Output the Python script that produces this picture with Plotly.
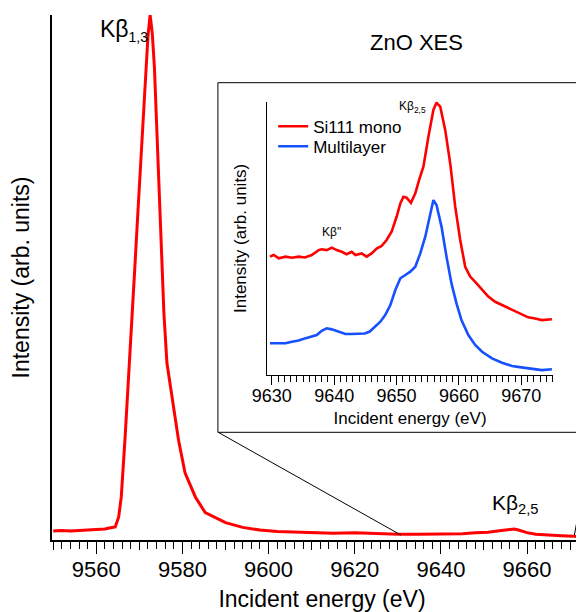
import plotly.graph_objects as go

# ---------------- data ----------------
main_energy = [9550.0, 9552, 9554, 9556, 9558, 9560, 9562, 9563, 9564.4, 9565.2, 9565.8,
               9566.7, 9567.5, 9568.3, 9568.9, 9569.7, 9570.5, 9571.4, 9572.0, 9572.5,
               9573.0, 9573.5, 9574.2, 9574.8, 9575.4, 9575.7, 9576.4, 9577.6, 9579.1,
               9580.6, 9583.0, 9585.3, 9587.6, 9590, 9594, 9598, 9602, 9606, 9610, 9615,
               9620, 9625, 9630, 9635, 9640, 9645, 9648, 9651, 9654, 9656, 9657, 9658,
               9660, 9662, 9665, 9668, 9671, 9673.5, 9675]
main_intensity = [0.017, 0.018, 0.017, 0.018, 0.018, 0.019, 0.021, 0.023, 0.025, 0.044, 0.082,
                  0.197, 0.305, 0.419, 0.512, 0.630, 0.743, 0.880, 0.960, 1.0,
                  0.965, 0.900, 0.760, 0.640, 0.520, 0.432, 0.337, 0.273, 0.190,
                  0.128, 0.082, 0.052, 0.042, 0.033, 0.024, 0.019, 0.016, 0.015, 0.014, 0.013,
                  0.014, 0.012, 0.011, 0.011, 0.011, 0.012, 0.014, 0.015, 0.018, 0.020, 0.021, 0.019,
                  0.014, 0.011, 0.009, 0.008, 0.007, 0.006, 0.006]

si_energy = [9629.7, 9630.3, 9631.1, 9632.2, 9633.2, 9634.3, 9635.3, 9636.4, 9637.5, 9638.0,
             9638.8, 9639.6, 9640.4, 9641.2, 9642.0, 9642.8, 9643.4, 9644.4, 9645.2, 9646.0,
             9646.8, 9647.6, 9648.4, 9649.2, 9650.0, 9650.6, 9651.1, 9651.6, 9652.3, 9653.0,
             9653.6, 9654.3, 9655.1, 9655.9, 9656.4, 9657.0, 9657.8, 9658.6, 9659.4, 9660.2,
             9661.0, 9661.8, 9662.6, 9663.7, 9664.7, 9665.8, 9666.9, 9667.9, 9669.0, 9670.0,
             9671.1, 9672.2, 9673.3, 9674.9]
si_intensity = [0.433, 0.439, 0.427, 0.433, 0.429, 0.433, 0.430, 0.439, 0.457, 0.460,
                0.457, 0.466, 0.457, 0.451, 0.442, 0.451, 0.439, 0.445, 0.433, 0.445,
                0.463, 0.472, 0.494, 0.524, 0.579, 0.628, 0.652, 0.649, 0.630, 0.665,
                0.713, 0.762, 0.872, 0.970, 0.996, 0.982, 0.896, 0.774, 0.616, 0.494,
                0.396, 0.360, 0.341, 0.311, 0.287, 0.268, 0.256, 0.244, 0.232, 0.220,
                0.211, 0.207, 0.201, 0.204]

ml_energy = [9629.7, 9631.1, 9632.2, 9633.2, 9634.3, 9635.3, 9636.4, 9637.2, 9638.0, 9638.8,
             9639.6, 9640.2, 9641.0, 9641.8, 9642.8, 9643.9, 9644.9, 9645.7, 9646.6, 9647.4,
             9648.2, 9649.0, 9649.8, 9650.6, 9651.4, 9652.2, 9653.0, 9653.8, 9654.6, 9655.4,
             9655.9, 9656.4, 9657.2, 9658.0, 9658.8, 9659.6, 9660.4, 9661.5, 9662.6, 9663.7,
             9665.3, 9666.9, 9668.5, 9670.0, 9671.7, 9673.3, 9674.9]
ml_intensity = [0.116, 0.116, 0.116, 0.122, 0.126, 0.134, 0.140, 0.146, 0.162, 0.171,
                0.167, 0.162, 0.155, 0.150, 0.150, 0.150, 0.152, 0.159, 0.177, 0.195,
                0.220, 0.256, 0.311, 0.354, 0.366, 0.378, 0.396, 0.445, 0.506, 0.591,
                0.640, 0.622, 0.543, 0.433, 0.335, 0.262, 0.201, 0.146, 0.110, 0.085,
                0.061, 0.045, 0.033, 0.028, 0.023, 0.018, 0.021]

main_ticks = [9560, 9580, 9600, 9620, 9640, 9660]
inset_ticks = [9630, 9640, 9650, 9660, 9670]

# ---------------- geometry helpers (screen pixel -> paper) ----------------
OFF = 8  # default page body margin offsets the figure by 8px
W, H = 584, 612
ML, MR, MT, MB = 43.7, 0, 7, 80
PW, PH = W - ML - MR, H - MT - MB


def pxx(x):
    return (x - OFF - ML) / PW


def pxy(y):
    return (H - MB - (y - OFF)) / PH


FONT = "Liberation Sans, Arial, sans-serif"
RED = "#ff0000"
BLUE = "#1650ff"

fig = go.Figure()

fig.add_trace(go.Scatter(x=main_energy, y=main_intensity, mode="lines",
                         line=dict(color=RED, width=3), showlegend=False,
                         xaxis="x", yaxis="y"))
fig.add_trace(go.Scatter(x=[], y=[], xaxis="x3", yaxis="y", showlegend=False))
fig.add_trace(go.Scatter(x=si_energy, y=si_intensity, mode="lines", name="Si111 mono",
                         line=dict(color=RED, width=2.6), xaxis="x2", yaxis="y2",
                         legend="legend"))
fig.add_trace(go.Scatter(x=ml_energy, y=ml_intensity, mode="lines", name="Multilayer",
                         line=dict(color=BLUE, width=2.6), xaxis="x2", yaxis="y2",
                         legend="legend2"))

main_range = [9549.72, 9675.08]

fig.update_layout(
    width=W, height=H,
    margin=dict(l=ML, r=MR, t=MT, b=MB, pad=0),
    paper_bgcolor="white", plot_bgcolor="white",
    font=dict(family=FONT, color="black"),
    xaxis=dict(domain=[0, 1], range=main_range, showgrid=False, zeroline=False,
               showline=True, linecolor="black", linewidth=1.5,
               tickmode="array", tickvals=main_ticks, ticks="outside", ticklen=12,
               tickwidth=1.3, tickcolor="black", tickfont=dict(size=22),
               ticklabelstandoff=-3,
               minor=dict(dtick=2, tick0=9550, ticks="outside", ticklen=7, tickwidth=1.3,
                          tickcolor="black", showgrid=False),
               title=dict(text="Incident energy (eV)", font=dict(size=23), standoff=10)),
    xaxis3=dict(overlaying="x", anchor="y", range=main_range, showgrid=False, zeroline=False,
                showline=False, dtick=10, tick0=9550, ticks="outside", ticklen=9,
                tickwidth=1.3, tickcolor="black", showticklabels=False, side="bottom"),
    yaxis=dict(domain=[0, 1], range=[0, 1], showgrid=False, zeroline=False,
               showline=True, linecolor="black", linewidth=1.5, ticks="",
               showticklabels=False,
               title=dict(text="Intensity (arb. units)", font=dict(size=23))),
    xaxis2=dict(domain=[pxx(267.3), pxx(552.5)], anchor="y2", range=[9629.3, 9675],
                showgrid=False, zeroline=False, showline=True, linecolor="black", linewidth=1,
                tickmode="array", tickvals=inset_ticks, ticks="outside", ticklen=9,
                tickwidth=1.2, tickcolor="black", tickfont=dict(size=18),
                ticklabelstandoff=-5,
                minor=dict(dtick=1, tick0=9630, ticks="outside", ticklen=6, tickwidth=1.2,
                           tickcolor="black", showgrid=False),
                title=dict(text="Incident energy (eV)", font=dict(size=17), standoff=7)),
    yaxis2=dict(domain=[pxy(375), pxy(101.7)], anchor="x2", range=[0, 1],
                showgrid=False, zeroline=False, showline=True, linecolor="black",
                linewidth=1, ticks="", showticklabels=False,
                title=dict(text="Intensity (arb. units)", font=dict(size=17))),
    legend=dict(x=pxx(273), y=pxy(108.7), xanchor="left", yanchor="top",
                bgcolor="rgba(0,0,0,0)", font=dict(size=17)),
    legend2=dict(x=pxx(273), y=pxy(128.7), xanchor="left", yanchor="top",
                 bgcolor="rgba(0,0,0,0)", font=dict(size=17)),
    showlegend=True,
)

# inset frame and zoom connectors
fig.add_shape(type="rect", xref="paper", yref="paper",
              x0=pxx(217.7), x1=pxx(620), y0=pxy(432.3), y1=pxy(82.7),
              line=dict(color="black", width=1), layer="below")
fig.add_shape(type="line", xref="x", yref="y",
              x0=9588.3, y0=pxy(432.3), x1=9630.7, y1=0.0095,
              line=dict(color="black", width=1))
fig.add_shape(type="line", xref="x", yref="y",
              x0=9671.0, y0=0.0095, x1=9675.3, y1=pxy(432.3),
              line=dict(color="black", width=1))

# labels
fig.add_annotation(text="ZnO XES", xref="paper", yref="paper", x=pxx(416.3), y=pxy(42.7),
                   showarrow=False, font=dict(size=22), xanchor="center", yanchor="middle")
fig.add_annotation(text="Kβ<sub><span style='font-size:14px'>1,3</span></sub>",
                   xref="paper", yref="paper", x=pxx(98), y=pxy(30),
                   showarrow=False, font=dict(size=23), xanchor="left", yanchor="middle")
fig.add_annotation(text="Kβ<sub>2,5</sub>", xref="paper", yref="paper", x=pxx(490), y=pxy(504),
                   showarrow=False, font=dict(size=21), xanchor="left", yanchor="middle")
fig.add_annotation(text="Kβ<sub>2,5</sub>", xref="paper", yref="paper", x=pxx(397), y=pxy(107),
                   showarrow=False, font=dict(size=12), xanchor="left", yanchor="middle")
fig.add_annotation(text="Kβ\"", xref="paper", yref="paper", x=pxx(320), y=pxy(232),
                   showarrow=False, font=dict(size=12), xanchor="left", yanchor="middle")

fig.write_html("out.html")
